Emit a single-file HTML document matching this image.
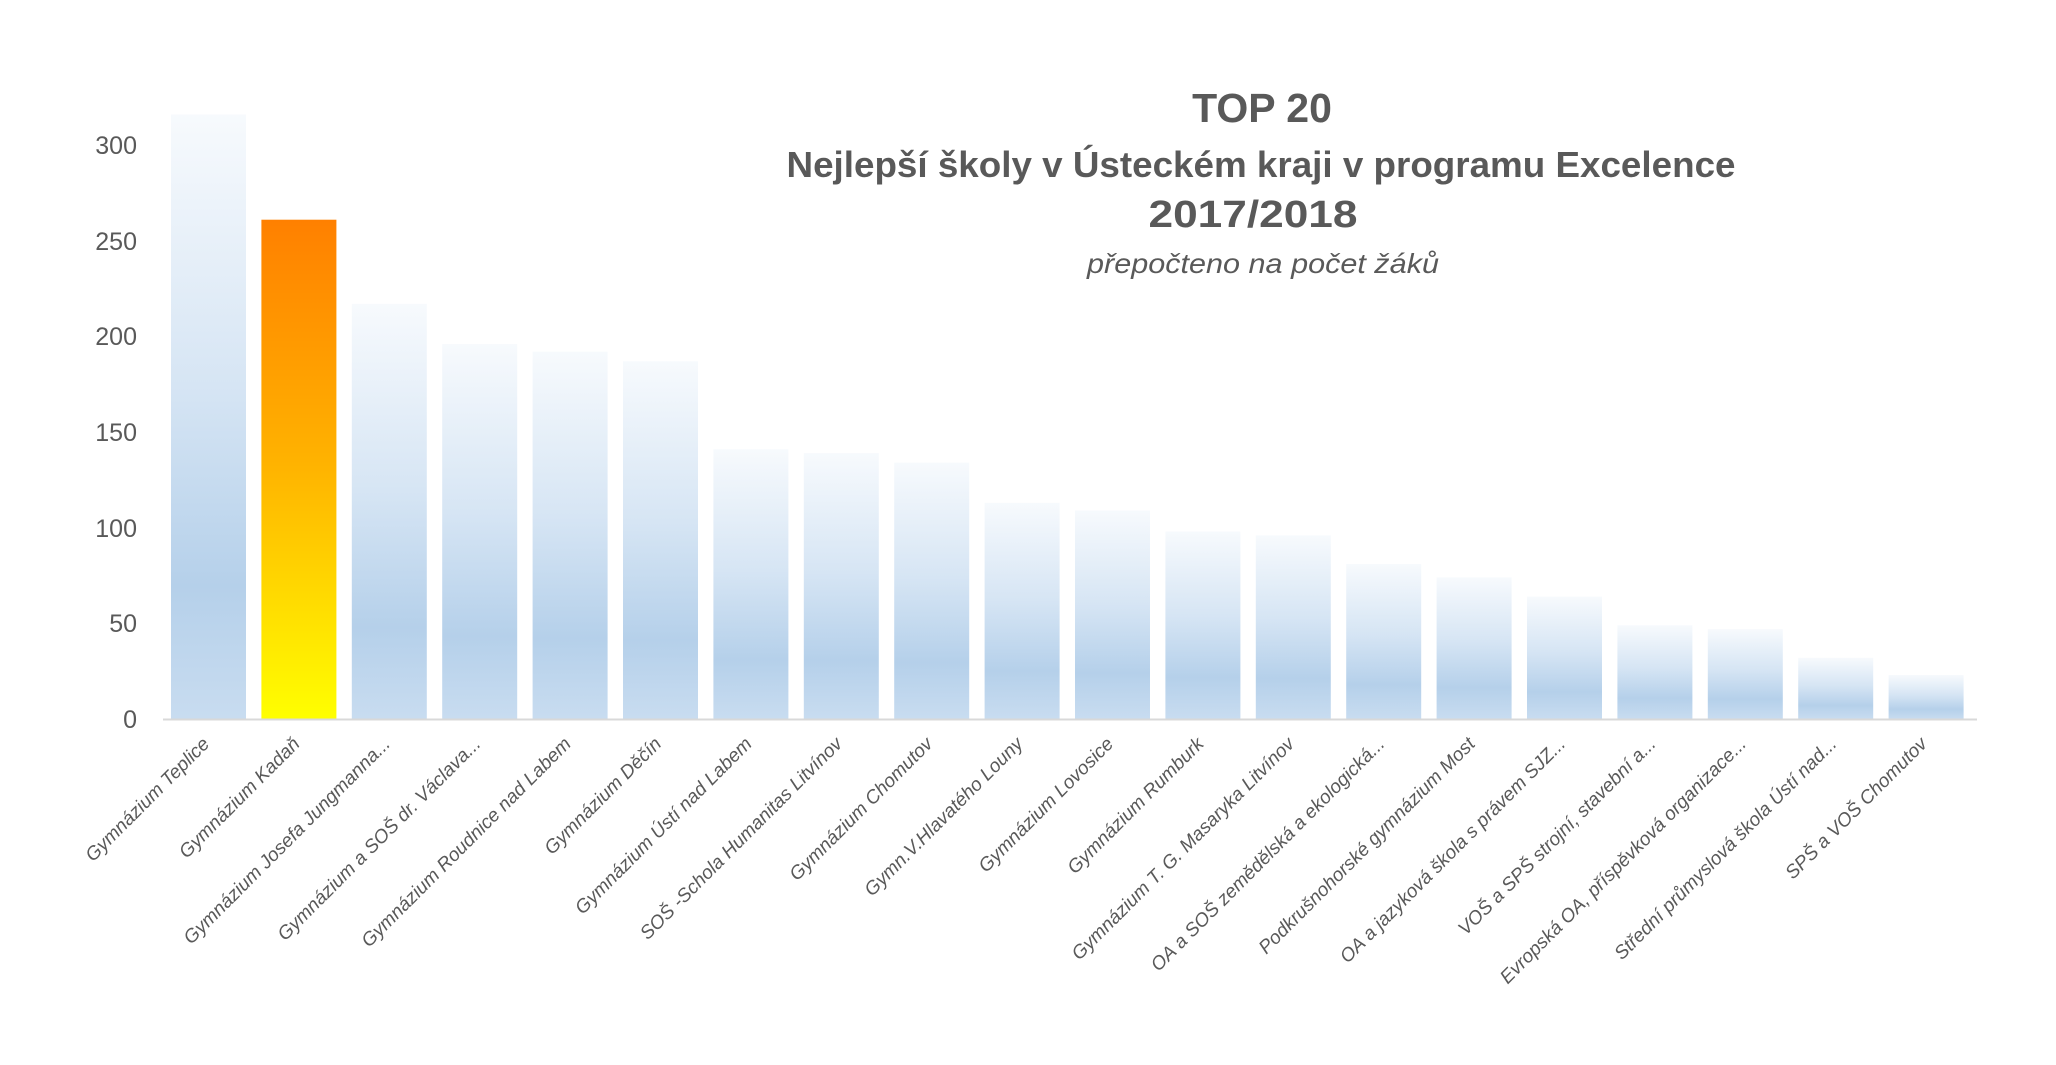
<!DOCTYPE html>
<html><head><meta charset="utf-8"><style>
html,body{margin:0;padding:0;background:#fff;}
svg{display:block;}
</style></head><body>
<svg width="2056" height="1065" xmlns="http://www.w3.org/2000/svg" font-family="'Liberation Sans', sans-serif">
<defs>
<linearGradient id="b" x1="0" y1="0" x2="0" y2="1">
<stop offset="0" stop-color="#f7fafd"/>
<stop offset="0.45" stop-color="#d6e5f4"/>
<stop offset="0.78" stop-color="#b5d0ea"/>
<stop offset="1" stop-color="#c8dcf0"/>
</linearGradient>
<linearGradient id="o" x1="0" y1="0" x2="0" y2="1">
<stop offset="0" stop-color="#ff8000"/>
<stop offset="0.5" stop-color="#ffb400"/>
<stop offset="1" stop-color="#ffff00"/>
</linearGradient>
</defs>
<g font-size="25" fill="#595959" text-anchor="end">
<text x="137" y="154">300</text>
<text x="137" y="250">250</text>
<text x="137" y="345">200</text>
<text x="137" y="441">150</text>
<text x="137" y="537">100</text>
<text x="137" y="632">50</text>
<text x="137" y="728">0</text>
</g>
<g id="bars"></g>
<line x1="163" y1="719.5" x2="1977" y2="719.5" stroke="#d9d9d9" stroke-width="2"/>
<g id="labels" font-size="19" font-style="italic" fill="#595959" text-anchor="end"></g>
<g fill="#595959" text-anchor="middle" font-weight="bold">
<text x="1262" y="122" font-size="41">TOP 20</text>
<text x="1261" y="177" font-size="36" textLength="949" lengthAdjust="spacingAndGlyphs">Nejlepší  školy v Ústeckém kraji v programu Excelence</text>
<text x="1253" y="227" font-size="38" textLength="209" lengthAdjust="spacingAndGlyphs">2017/2018</text>
</g>
<text x="1263" y="273" font-size="28" font-style="italic" fill="#595959" text-anchor="middle" textLength="352" lengthAdjust="spacingAndGlyphs">přepočteno na počet žáků</text>
<script>
var v=[316,261,217,196,192,187,141,139,134,113,109,98,96,81,74,64,49,47,32,23];
var n=["Gymnázium Teplice","Gymnázium  Kadaň","Gymnázium Josefa Jungmanna...","Gymnázium a SOŠ dr. Václava...","Gymnázium Roudnice nad Labem","Gymnázium Děčín","Gymnázium Ústí nad Labem","SOŠ -Schola Humanitas Litvínov","Gymnázium Chomutov","Gymn.V.Hlavatého Louny","Gymnázium Lovosice","Gymnázium Rumburk","Gymnázium T. G. Masaryka Litvínov","OA a SOŠ zemědělská a ekologická...","Podkrušnohorské gymnázium Most","OA a jazyková škola s právem SJZ...","VOŠ a SPŠ strojní, stavební a...","Evropská OA, příspěvková organizace...","Střední průmyslová škola Ústí nad...","SPŠ a VOŠ Chomutov"];
var ns="http://www.w3.org/2000/svg",B=document.getElementById("bars"),L=document.getElementById("labels");
for(var i=0;i<20;i++){var x=171+i*90.4,h=v[i]*1.913;
var r=document.createElementNS(ns,"rect");r.setAttribute("x",x);r.setAttribute("width",75);r.setAttribute("y",719-h);r.setAttribute("height",h);r.setAttribute("fill",i==1?"url(#o)":"url(#b)");B.appendChild(r);
var cx=x+37.5+2,cy=745;var t=document.createElementNS(ns,"text");t.setAttribute("x",cx);t.setAttribute("y",cy);t.setAttribute("transform","rotate(-45 "+cx+" "+cy+")");t.textContent=n[i];L.appendChild(t);}
</script>
</svg>
</body></html>
